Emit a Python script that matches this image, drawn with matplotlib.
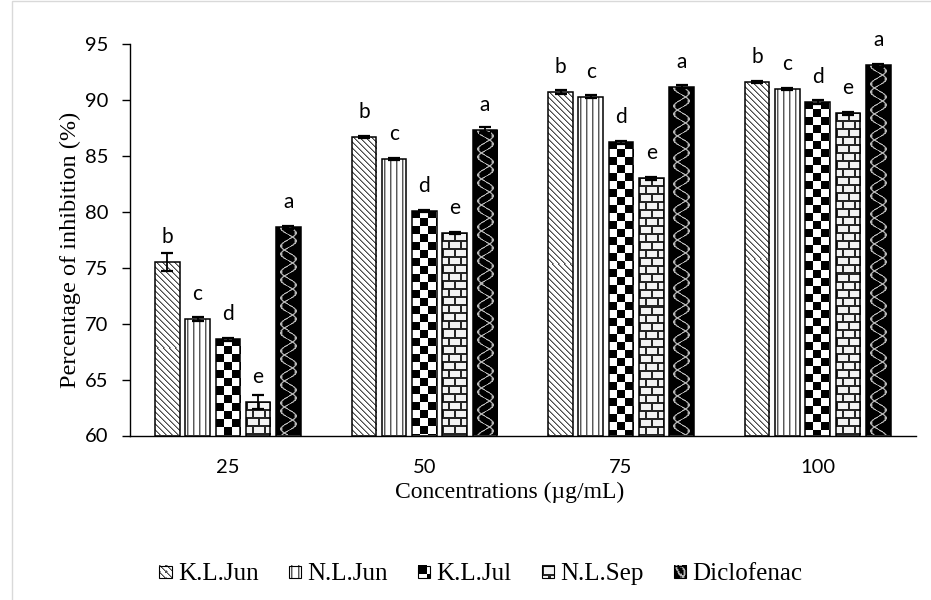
import numpy as np
import matplotlib
matplotlib.use("Agg")
import matplotlib.pyplot as plt
from matplotlib.patches import Rectangle
from matplotlib.legend_handler import HandlerBase
from matplotlib.image import BboxImage
from matplotlib.transforms import Bbox, TransformedBbox
from matplotlib.colors import Normalize

# data
concentrations = ["25", "50", "75", "100"]
series = ["K.L.Jun", "N.L.Jun", "K.L.Jul", "N.L.Sep", "Diclofenac"]
kl_jun = [75.5, 86.7, 90.7, 91.6]
nl_jun = [70.4, 84.7, 90.3, 91.0]
kl_jul = [68.6, 80.1, 86.2, 89.8]
nl_sep = [63.0, 78.1, 83.0, 88.8]
diclofenac = [78.6, 87.3, 91.2, 93.1]
err_kl_jun = [0.8, 0.1, 0.15, 0.1]
err_nl_jun = [0.2, 0.1, 0.15, 0.1]
err_kl_jul = [0.15, 0.1, 0.1, 0.15]
err_nl_sep = [0.6, 0.1, 0.15, 0.15]
err_diclofenac = [0.15, 0.3, 0.1, 0.15]
letters = ["b", "c", "d", "e", "a"]

values = [kl_jun, nl_jun, kl_jul, nl_sep, diclofenac]
errors = [err_kl_jun, err_nl_jun, err_kl_jul, err_nl_sep, err_diclofenac]
patterns = ["diag", "vert", "checker", "brick", "wave"]


def texture(kind, w, h):
    """Grey-level fill pattern, w x h pixels, 0 = black, 1 = white."""
    w = max(w, 1)
    h = max(h, 1)
    xx, yy = np.meshgrid(np.arange(w), np.arange(h))
    img = np.ones((h, w))
    if kind == "diag":
        m = (xx - yy) % 6
        img[m == 0] = 0.3
        img[m == 1] = 0.6
    elif kind == "vert":
        m = (xx - 2) % 6
        img[m == 0] = 0.35
        img[m == 1] = 0.7
    elif kind == "checker":
        img = ((xx // 8 + yy // 8) % 2).astype(float)
    elif kind == "brick":
        row = yy // 8
        shifted = (xx + (row % 2) * 6) % 12
        img[(yy % 8) < 2] = 0.15
        img[shifted < 2] = 0.15
        img[((yy % 8) >= 2) & (shifted >= 2)] = 0.95
    elif kind == "wave":
        img = np.zeros((h, w))
        cx = (w - 1) / 2
        amp = w * 0.3
        s = np.sin(2 * np.pi * yy / 26.0)
        s2 = np.sin(2 * np.pi * yy / 26.0 + 1.2)
        d1 = np.abs(xx - (cx + amp * s))
        d2 = np.abs(xx - (cx - amp * s2))
        d = np.minimum(d1, d2)
        img[d < 0.8] = 0.7
        img[(d >= 0.8) & (d < 1.5)] = 0.3
    return img


class TextureHandler(HandlerBase):
    def __init__(self, kind):
        super().__init__()
        self.kind = kind

    def create_artists(self, legend, orig_handle, xdescent, ydescent,
                       width, height, fontsize, trans):
        side = min(width, height)
        box = Bbox.from_bounds(-xdescent, -ydescent, side, side)
        px = int(round(side * legend.get_figure(root=True).dpi / 72))
        img = BboxImage(TransformedBbox(box, trans), cmap="gray",
                        norm=Normalize(0, 1), interpolation="nearest")
        img.set_data(texture(self.kind, px, px))
        rect = Rectangle((-xdescent, -ydescent), side, side, facecolor="none",
                         edgecolor="black", lw=0.8, transform=trans)
        return [img, rect]


fig = plt.figure(figsize=(9.31, 6), dpi=100)
ax = fig.add_axes([129.5 / 931, 1 - 435.5 / 600,
                   (916 - 129.5) / 931, (435.5 - 44) / 600])

x = np.arange(len(concentrations))
width = 0.125
pitch = 0.154
ax.set_xlim(-0.5, len(concentrations) - 0.5)
ax.set_ylim(60, 95)

handles = []
for i, name in enumerate(series):
    pos = x + (i - 2) * pitch
    bars = ax.bar(pos, np.array(values[i]) - 60, width, bottom=60,
                  color="white", edgecolor="black", linewidth=1.1,
                  zorder=3, label=name)
    bars_fill = ax.bar(pos, np.array(values[i]) - 60, width, bottom=60,
                       color="white", linewidth=0, zorder=2)
    for b in bars_fill:
        bb = b.get_window_extent()
        arr = texture(patterns[i], int(round(bb.width)), int(round(bb.height)))
        im = ax.imshow(arr, extent=(b.get_x(), b.get_x() + b.get_width(),
                                    b.get_y(), b.get_y() + b.get_height()),
                       cmap="gray", vmin=0, vmax=1, interpolation="nearest",
                       aspect="auto", origin="upper", zorder=2.5)
        im.set_clip_path(b)
    for b in bars:
        b.set_facecolor("none")
    ax.errorbar(pos, values[i], yerr=errors[i], fmt="none", ecolor="black",
                elinewidth=1.3, capsize=4.5, capthick=1.6, zorder=4)
    for px_, v in zip(pos, values[i]):
        ax.annotate(letters[i], (px_, v), xytext=(0, 18),
                    textcoords="offset points", ha="center", va="center",
                    fontsize=15, family="Lato")
    handles.append(bars)

ax.set_xlim(-0.5, len(concentrations) - 0.5)
ax.set_ylim(60, 95)
ax.set_xticks(x)
ax.set_xticklabels(concentrations)
ax.set_yticks(np.arange(60, 96, 5))
for lab in ax.get_xticklabels() + ax.get_yticklabels():
    lab.set_family("Lato")
    lab.set_fontsize(14.5)
ax.tick_params(axis="x", length=0, pad=17)
ax.tick_params(axis="y", direction="out", length=6, width=1, pad=9)
for side in ["top", "right"]:
    ax.spines[side].set_visible(False)
ax.spines["left"].set_linewidth(1)
ax.spines["bottom"].set_linewidth(1)

fig.text(70 / 931, 1 - 250 / 600, "Percentage of inhibition (%)",
         rotation=90, ha="center", va="center", family="Liberation Serif",
         fontsize=17.5)
fig.text(510 / 931, 1 - 492 / 600, "Concentrations (\u00b5g/mL)",
         ha="center", va="center", family="Liberation Serif", fontsize=17)

fig.legend(handles, series, loc="center",
           bbox_to_anchor=(481 / 931, 1 - 574 / 600), ncol=5, frameon=False,
           prop={"family": "Liberation Serif", "size": 18},
           handlelength=0.5, handleheight=0.5, handletextpad=0.25,
           columnspacing=1.2,
           handler_map={h: TextureHandler(k) for h, k in zip(handles, patterns)})

# light chart-area border
fig.add_artist(Rectangle((11.5 / 931, -0.05), 1.2, 1.05 - 1.5 / 600,
                         transform=fig.transFigure, fill=False,
                         edgecolor="#d9d9d9", lw=1))

fig.savefig("out.png", dpi=100)
